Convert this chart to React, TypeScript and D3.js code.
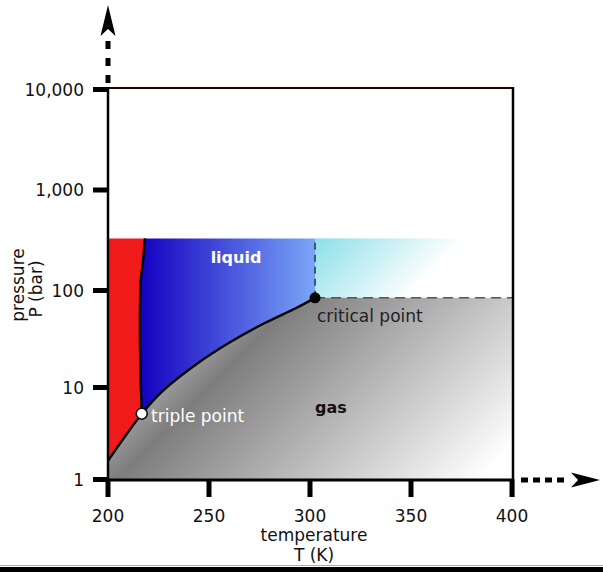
import React from "react";
import * as d3 from "d3";

// ---- data ----
const xTicks = [200, 250, 300, 350, 400];
const yTicks = [1, 10, 100, 1000, 10000];
const yTickLabels = ["1", "10", "100", "1,000", "10,000"];

// sublimation curve (solid / gas)
const sublimationT = [200, 208.5, 216.7];
const sublimationP = [1.6, 2.95, 5.2];
// melting curve (solid / liquid), from triple point upward
const meltingT = [216.7, 216.2, 215.8, 216.2, 217.2, 218.3];
const meltingP = [5.2, 11.8, 38.7, 125, 185, 330];
// vaporization curve (liquid / gas), triple point to critical point
const vaporT = [216.7, 227.4, 243.9, 260.4, 276.9, 293.4, 302.5];
const vaporP = [5.2, 9.3, 17.5, 29.3, 45.4, 66.4, 84];

const triplePoint = { T: 216.7, P: 5.2 };
const criticalPoint = { T: 302.5, P: 84 };
const topPressure = 330;

const FONT = "DejaVu Sans";

export default function App() {
  const x = d3.scaleLinear().domain([200, 400]).range([108, 512]);
  const y = d3
    .scaleLog()
    .domain([1, 10, 100, 1000, 10000])
    .range([479.5, 387.5, 290.5, 190, 89.5]);

  const zip = (ts: number[], ps: number[]) =>
    ts.map((t, i) => [t, ps[i]] as [number, number]);
  const sub = zip(sublimationT, sublimationP);
  const melt = zip(meltingT, meltingP);
  const vap = zip(vaporT, vaporP);

  const line = d3
    .line<[number, number]>()
    .x((d) => x(d[0]))
    .y((d) => y(d[1]))
    .curve(d3.curveCatmullRom.alpha(0.5));
  const seg = (pts: [number, number][]) => line(pts) as string;
  const cont = (p: string) => p.replace(/^M/, "L");
  const pt = (T: number, P: number) => `L${x(T)},${y(P)}`;

  const gasPath =
    seg(sub) +
    cont(seg(vap)) +
    pt(400, criticalPoint.P) +
    pt(400, 1) +
    pt(200, 1) +
    "Z";
  const liquidPath =
    seg(melt) +
    pt(criticalPoint.T, topPressure) +
    pt(criticalPoint.T, criticalPoint.P) +
    cont(seg([...vap].reverse())) +
    "Z";
  const solidPath =
    `M${x(200)},${y(topPressure)}` +
    pt(melt[melt.length - 1][0], topPressure) +
    cont(seg([...melt].reverse())) +
    cont(seg([...sub].reverse())) +
    "Z";

  const cx = x(criticalPoint.T);
  const cy = y(criticalPoint.P);
  const top = y(topPressure);

  return (
    <svg
      width={603}
      height={572}
      style={{ position: "absolute", left: 0, top: 0, background: "#fff" }}
      fontFamily={FONT}
    >
      <defs>
        <linearGradient id="liq" gradientUnits="userSpaceOnUse" x1={140} y1={0} x2={cx} y2={0}>
          <stop offset="0" stopColor="#1400c0" />
          <stop offset="1" stopColor="#7aa6f7" />
        </linearGradient>
        <linearGradient id="gas" gradientUnits="userSpaceOnUse" x1={230} y1={230} x2={480} y2={480}>
          <stop offset="0" stopColor="#b4b4b4" />
          <stop offset="0.19" stopColor="#989898" />
          <stop offset="0.27" stopColor="#7d7d7d" />
          <stop offset="1" stopColor="#ffffff" />
        </linearGradient>
        <linearGradient id="sc" gradientUnits="userSpaceOnUse" x1={cx} y1={top} x2={392} y2={314}>
          <stop offset="0" stopColor="#8cdfe8" />
          <stop offset="1" stopColor="#ffffff" />
        </linearGradient>
      </defs>

      {/* regions */}
      <rect x={cx} y={top} width={x(400) - cx} height={cy - top} fill="url(#sc)" />
      <path d={gasPath} fill="url(#gas)" />
      <path d={liquidPath} fill="url(#liq)" />
      <path d={solidPath} fill="#f01a1a" />

      {/* phase boundaries */}
      <path d={seg(sub)} fill="none" stroke="#000" strokeWidth={2.4} />
      <path d={seg(melt)} fill="none" stroke="#000" strokeWidth={2.4} />
      <path d={seg(vap)} fill="none" stroke="#000" strokeWidth={2.4} />
      <line x1={cx} y1={cy} x2={cx} y2={top} stroke="#333" strokeWidth={1.5} strokeDasharray="7,5" />
      <line x1={cx} y1={cy} x2={x(400)} y2={cy} stroke="#555" strokeWidth={1.5} strokeDasharray="10,6" />

      {/* points */}
      <circle cx={cx} cy={cy} r={5.5} fill="#000" />
      <circle cx={x(triplePoint.T)} cy={y(triplePoint.P)} r={5.5} fill="#fff" stroke="#000" strokeWidth={1.5} />

      {/* frame */}
      <line x1={108} y1={88} x2={514} y2={88} stroke="#200" strokeWidth={2} />
      <line x1={108} y1={87} x2={108} y2={497} stroke="#000" strokeWidth={2.5} />
      <line x1={513} y1={87} x2={513} y2={497} stroke="#000" strokeWidth={2.5} />
      <line x1={93} y1={480} x2={514} y2={480} stroke="#000" strokeWidth={3} />

      {/* y ticks */}
      {yTicks.map((t, i) => (
        <g key={t}>
          <line x1={93} x2={108} y1={y(t)} y2={y(t)} stroke="#000" strokeWidth={5} />
          <text x={84} y={y(t) + 6} textAnchor="end" fontSize={17} fill="#111">
            {yTickLabels[i]}
          </text>
        </g>
      ))}
      {/* x ticks */}
      {xTicks.map((t) => (
        <g key={t}>
          <line x1={x(t)} x2={x(t)} y1={479} y2={497} stroke="#000" strokeWidth={5} />
          <text x={x(t)} y={522} textAnchor="middle" fontSize={17} fill="#111">
            {t}
          </text>
        </g>
      ))}

      {/* axis arrows */}
      <line x1={108} y1={90} x2={108} y2={31} stroke="#000" strokeWidth={5} strokeDasharray="0,7,8,9,8,9,8,9" />
      <path d="M108,5 L115.5,36 L108,29 L100.5,36 Z" fill="#000" />
      <line x1={516} y1={480} x2={572} y2={480} stroke="#000" strokeWidth={5} strokeDasharray="0,5,7,5,7,5,7,5,7,5" />
      <path d="M600,480 L571,487.5 L578,480 L571,472.5 Z" fill="#000" />

      {/* labels */}
      <text x={236} y={263} textAnchor="middle" fontSize={16} fontWeight="bold" fill="#fff">
        liquid
      </text>
      <text x={315} y={413} fontSize={16} fontWeight="bold" fill="#111">
        gas
      </text>
      <text x={317} y={322} fontSize={17} fill="#222">
        critical point
      </text>
      <text x={151} y={422} fontSize={17} fill="#fff">
        triple point
      </text>

      {/* axis titles */}
      <text x={314} y={541} textAnchor="middle" fontSize={17} fill="#111">
        temperature
      </text>
      <text x={314} y={561} textAnchor="middle" fontSize={17} fill="#111">
        T (K)
      </text>
      <text transform="translate(24,285) rotate(-90)" textAnchor="middle" fontSize={17} fill="#111">
        pressure
      </text>
      <text transform="translate(42,289) rotate(-90)" textAnchor="middle" fontSize={17} fill="#111">
        P (bar)
      </text>

      {/* bottom bar */}
      <line x1={0} x2={603} y1={565.5} y2={565.5} stroke="#aaa" strokeWidth={1} />
      <rect x={0} y={567} width={603} height={5} fill="#000" />
    </svg>
  );
}
